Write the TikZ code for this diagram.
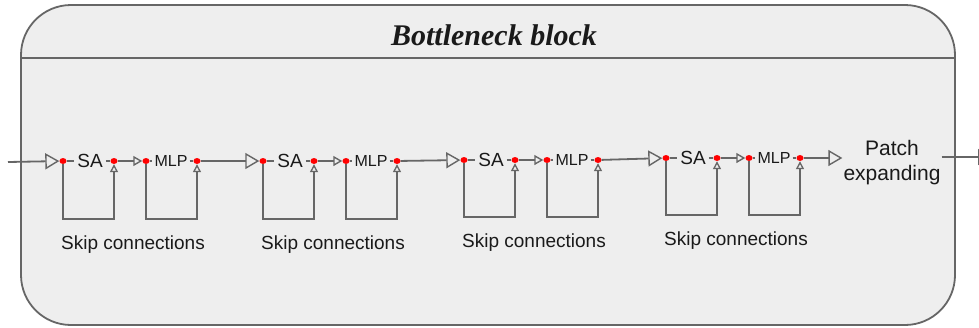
\documentclass[tikz,border=0pt]{standalone}
\usepackage{fontspec}
\setmainfont{Liberation Sans}
\newfontfamily\headfont{Liberation Serif}
\usetikzlibrary{arrows.meta,shapes.geometric}
\definecolor{panel}{HTML}{EEEEEE}
\definecolor{wirecol}{HTML}{666666}
\definecolor{ink}{HTML}{1A1A1A}
\begin{document}
\begin{tikzpicture}[x=1pt,y=-1pt,
  wire/.style={draw=wirecol,line width=1.8pt},
  bigtip/.style={-{Triangle[length=14pt,width=16pt,fill=panel,line width=1.4pt]}},
  smalltip/.style={-{Triangle[length=9pt,width=10pt,fill=panel,line width=1.4pt]}},
  uptip/.style={-{Triangle[length=8pt,width=8pt,fill=panel,line width=1.3pt]}},
  lbl/.style={text=ink,font=\fontsize{19}{22}\selectfont,inner sep=3pt},
  mlplbl/.style={text=ink,font=\fontsize{16}{19}\selectfont,inner sep=2pt},
  note/.style={text=ink,font=\fontsize{19}{22}\selectfont,inner sep=0pt},
  port/.style={ellipse,fill=red,inner sep=0pt,minimum width=7pt,minimum height=6pt}
]
\useasboundingbox (0,0) rectangle (979,327);

% outer block with header band
\draw[wire,fill=panel,rounded corners=50pt] (21,5) rectangle (955,325);
\draw[wire] (21,58) -- (955,58);
\node[text=ink,anchor=base,inner sep=0pt,font=\headfont\bfseries\itshape\fontsize{30}{34}\selectfont]
  (title) at (494,45) {Bottleneck block};

% four SA + MLP stages, each with its residual loops
\coordinate (src) at (8,162);
\foreach \i/\x/\y/\b in {1/47/161/219, 2/247/161/219, 3/448/160/217, 4/650/158/215} {
  \node[port] (ina\i)  at ({\x+16},\y) {};
  \node[lbl]  (sa\i)   at ({\x+43},\y) {SA};
  \node[port] (outa\i) at ({\x+67},\y) {};
  \node[port] (inb\i)  at ({\x+99},\y) {};
  \node[mlplbl] (mlp\i) at ({\x+124},\y) {MLP};
  \node[port] (outb\i) at ({\x+150},\y) {};
  \node[note] (skip\i) at ({\x+86},{\b+26}) {Skip connections};
  \draw[wire] (ina\i) -- (sa\i) -- (outa\i);
  \draw[wire,smalltip] (outa\i) -- (inb\i);
  \draw[wire] (inb\i) -- (mlp\i) -- (outb\i);
  \draw[wire,uptip] (ina\i) -- (ina\i |- 0,\b) -| (outa\i);
  \draw[wire,uptip] (inb\i) -- (inb\i |- 0,\b) -| (outb\i);
}

% links between stages
\draw[wire,bigtip] (src) -- (ina1);
\draw[wire,bigtip] (outb1) -- (ina2);
\draw[wire,bigtip] (outb2) -- (ina3);
\draw[wire,bigtip] (outb3) -- (ina4);

% patch expanding and output
\node[text=ink,align=center,inner sep=1pt,font=\fontsize{21}{25}\selectfont]
  (patch) at (892,163) {Patch\\expanding};
\coordinate (sink) at (992,157);
\draw[wire,bigtip] (outb4) -- (outb4 -| patch.west);
\draw[wire,bigtip] (patch.east |- sink) -- (sink);
\end{tikzpicture}
\end{document}
